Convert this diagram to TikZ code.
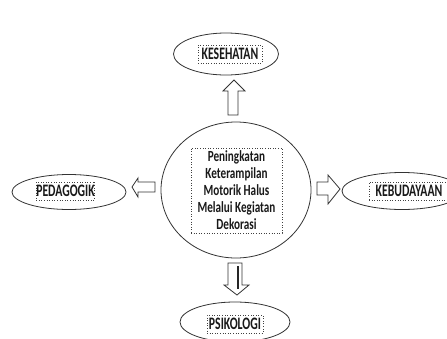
\documentclass[tikz,border=0pt]{standalone}
\usepackage{fontspec}
\setmainfont{Carlito}[FakeStretch=0.72]
\newfontfamily\labfont{Carlito}[FakeStretch=0.67]
\usetikzlibrary{shapes.geometric}
\begin{document}
\begin{tikzpicture}[x=1pt,y=-1pt,
  lnc/.style={draw=black!80,line width=0.8pt},
  oval/.style={ellipse,lnc,inner sep=0pt,fill=white},
  lab/.style={draw=black!75,dotted,line width=0.6pt,inner sep=0pt,font=\labfont\fontsize{17.5}{17}\selectfont\bfseries,text=black!90,minimum height=18pt},
  blk/.style={lnc,fill=white,line join=miter}]
\useasboundingbox (0,0) rectangle (447,338);
% outer ellipses
\node[oval,minimum width=105pt,minimum height=42pt] (topE) at (226,54) {};
\node[oval,minimum width=114pt,minimum height=35pt] (leftE) at (69,192) {};
\node[oval,minimum width=120pt,minimum height=37pt] (rightE) at (402,191) {};
\node[oval,minimum width=110pt,minimum height=40pt] (botE) at (235,322) {};
\node[oval,minimum width=150pt,minimum height=136pt] (mid) at (236,190) {};
% labels
\node[lab,minimum width=64pt] (top) at (230,54) {KESEHATAN};
\node[lab,minimum width=57pt] (left) at (65.5,191) {PEDAGOGIK};
\node[lab,minimum width=80pt] (right) at (409,191) {KEBUDAYAAN};
\node[lab,minimum width=56pt] (bot) at (235,324) {PSIKOLOGI};
\node[lab,minimum width=91pt,minimum height=85pt,align=center,font=\fontsize{15.5}{17}\selectfont\bfseries] (midT) at (236.5,190.5)
  {Peningkatan\\Keterampilan\\Motorik Halus\\Melalui Kegiatan\\Dekorasi};
% block arrows
\draw[blk] (228,115) -- (228,91) -- (223,91) -- (234,80) -- (245,91) -- (238,91) -- (238,115) -- cycle;
\draw[blk] (228,263) -- (242,263) -- (242,285) -- (249,285) -- (237,295) -- (224,285) -- (228,285) -- cycle;
\draw[black!85,line width=1.3pt] (238,266) -- (238,289);
\draw[blk] (155,182) -- (138,182) -- (138,178) -- (132,187) -- (138,197) -- (138,192) -- (155,192) -- cycle;
\draw[blk] (317,182) -- (328,182) -- (328,175) -- (340,189) -- (328,204) -- (328,195) -- (317,195) -- cycle;
\end{tikzpicture}
\end{document}
